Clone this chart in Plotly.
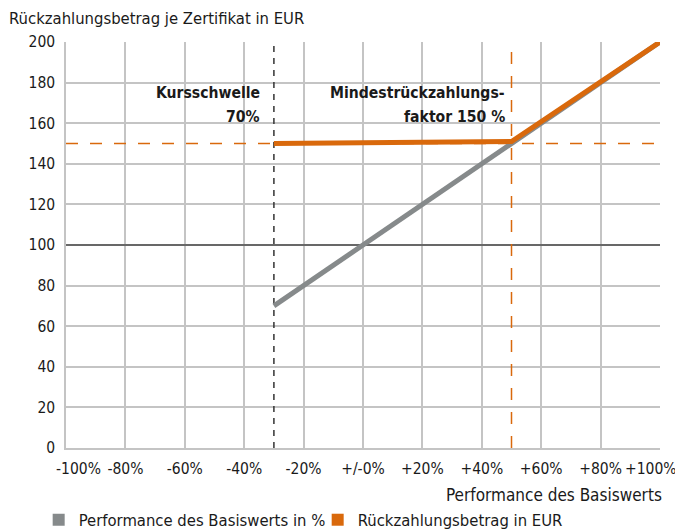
import plotly.graph_objects as go

# ---- data ----
perf_x = [-30, 100]              # Performance des Basiswerts (%)
perf_y = [70, 200]               # value of underlying in EUR
payout_x = [-30, 50, 100]        # Rückzahlungsbetrag
payout_y = [150, 151, 200]
kursschwelle = -30               # Kursschwelle 70%
mindest_level = 150              # Mindestrückzahlung 150
mindest_perf = 50                # performance where payout = underlying
ref_level = 100

x_tickvals = [-100, -80, -60, -40, -20, 0, 20, 40, 60, 80, 100]
x_ticktext = ["-100%", "-80%", "-60%", "-40%", "-20%", "+/-0%", "+20%", "+40%", "+60%", "+80%", "+100%"]
y_tickvals = [0, 20, 40, 60, 80, 100, 120, 140, 160, 180, 200]

GRAY = "#868a8b"
ORANGE = "#d9690c"
TXT = "#1a1a1a"
FONT = "Liberation Sans Narrow, DejaVu Sans Condensed, Arial Narrow, sans-serif"

fig = go.Figure()

# reference line at 100
fig.add_trace(go.Scatter(x=[-100, 100], y=[ref_level, ref_level], mode="lines",
                         line=dict(color="#4a4a4a", width=1.3), showlegend=False, hoverinfo="skip"))
# orange dashed horizontal at 150
fig.add_trace(go.Scatter(x=[-100, 100], y=[mindest_level, mindest_level], mode="lines",
                         line=dict(color=ORANGE, width=1.5, dash="12px,12px"), showlegend=False, hoverinfo="skip"))
# black dashed vertical at Kursschwelle
fig.add_trace(go.Scatter(x=[kursschwelle, kursschwelle], y=[0, 200], mode="lines",
                         line=dict(color="#333333", width=1.5, dash="6px,6px"), showlegend=False, hoverinfo="skip"))
# orange dashed vertical at 50%
fig.add_trace(go.Scatter(x=[mindest_perf, mindest_perf], y=[0, 200], mode="lines",
                         line=dict(color=ORANGE, width=1.5, dash="12px,12px"), showlegend=False, hoverinfo="skip"))

# main lines
fig.add_trace(go.Scatter(x=perf_x, y=perf_y, mode="lines", line=dict(color=GRAY, width=5),
                         showlegend=False))
fig.add_trace(go.Scatter(x=payout_x, y=payout_y, mode="lines", line=dict(color=ORANGE, width=5),
                         showlegend=False))

# legend entries (square symbols)
fig.add_trace(go.Scatter(x=[None], y=[None], mode="markers", name="Performance des Basiswerts in %",
                         marker=dict(symbol="square", size=12, color=GRAY)))
fig.add_trace(go.Scatter(x=[None], y=[None], mode="markers", name="Rückzahlungsbetrag in EUR",
                         marker=dict(symbol="square", size=12, color=ORANGE)))

ann_font = dict(family=FONT, size=15.6, color=TXT)
fig.add_annotation(x=kursschwelle, y=175, xref="x", yref="y", xanchor="right", yanchor="middle",
                   xshift=-12, showarrow=False, text="<b>Kursschwelle</b>", font=ann_font)
fig.add_annotation(x=kursschwelle, y=163.2, xref="x", yref="y", xanchor="right", yanchor="middle",
                   xshift=-12, showarrow=False, text="<b>70%</b>", font=ann_font)
fig.add_annotation(x=mindest_perf, y=175, xref="x", yref="y", xanchor="right", yanchor="middle",
                   xshift=-5, showarrow=False, text="<b>Mindestrückzahlungs-</b>", font=ann_font)
fig.add_annotation(x=mindest_perf, y=163.2, xref="x", yref="y", xanchor="right", yanchor="middle",
                   xshift=-5, showarrow=False, text="<b>faktor 150 %</b>", font=ann_font)
# x-axis title, right aligned
fig.add_annotation(x=1, y=0, xref="paper", yref="paper", xanchor="right", yanchor="middle",
                   yshift=-47, xshift=4, showarrow=False, text="Performance des Basiswerts",
                   font=dict(family=FONT, size=17, color=TXT))

# end tick labels are nudged inward (as in the original) so they stay clear of the "0" label / page edge
tick_font = dict(family=FONT, size=15.5, color=TXT)
inner_text = [t if v not in (x_tickvals[0], x_tickvals[-1]) else "" for v, t in zip(x_tickvals, x_ticktext)]
fig.add_annotation(x=x_tickvals[0], y=0, xref="x", yref="paper", xanchor="left", yanchor="middle",
                   xshift=-12, yshift=-21, showarrow=False, text=x_ticktext[0], font=tick_font)
fig.add_annotation(x=x_tickvals[-1], y=0, xref="x", yref="paper", xanchor="right", yanchor="middle",
                   xshift=19, yshift=-21, showarrow=False, text=x_ticktext[-1], font=tick_font)

# page body has an 8px margin; figure is sized/placed to compensate
fig.update_layout(
    width=675, height=522,
    margin=dict(l=58, r=23, t=34, b=82, autoexpand=False),
    plot_bgcolor="white", paper_bgcolor="white",
    font=dict(family=FONT, size=15.5, color=TXT),
    title=dict(text="Rückzahlungsbetrag je Zertifikat in EUR", x=0, xref="container", xanchor="left",
               y=1 - 10 / 522, yref="container", yanchor="middle",
               font=dict(family=FONT, size=16.5, color=TXT), pad=dict(l=1)),
    xaxis=dict(range=[-100, 100], tickvals=x_tickvals, ticktext=inner_text, showgrid=True,
               gridcolor="#c4c4c4", gridwidth=1.5, zeroline=False, showline=True, linecolor="#c4c4c4",
               linewidth=1.5, mirror=False, ticks="", tickfont=dict(size=15.5), automargin=False,
               ticklabeloverflow="allow", ticklabelstandoff=6),
    yaxis=dict(range=[0, 200], tickvals=y_tickvals, showgrid=True, gridcolor="#c4c4c4", gridwidth=1.5,
               zeroline=False, showline=True, linecolor="#c4c4c4", linewidth=1.5, ticks="",
               tickfont=dict(size=15.5), automargin=False, ticklabelstandoff=6),
    legend=dict(orientation="h", x=-0.046, xanchor="left", y=-72 / 406, yanchor="middle",
                font=dict(size=16.5), itemwidth=30, tracegroupgap=0, bgcolor="rgba(0,0,0,0)",
                entrywidth=234, entrywidthmode="pixels"),
    showlegend=True,
)

fig.write_html("out.html")
